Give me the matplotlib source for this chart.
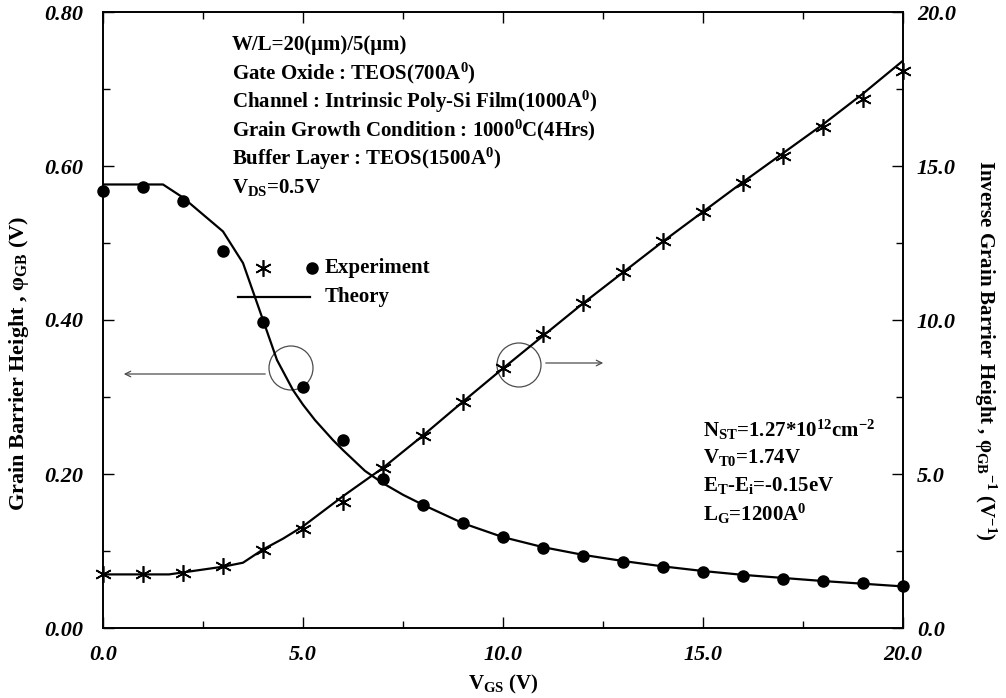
import matplotlib
matplotlib.use("Agg")
import matplotlib.pyplot as plt
from matplotlib.patches import Ellipse
from matplotlib.ticker import MultipleLocator, FormatStrFormatter

# fuentes tipo Times en negrita
plt.rcParams['font.family'] = ['Liberation Serif', 'DejaVu Serif']
plt.rcParams['font.weight'] = 'bold'
plt.rcParams['axes.labelweight'] = 'bold'
plt.rcParams['mathtext.fontset'] = 'custom'
plt.rcParams['mathtext.rm'] = 'Liberation Serif:bold'
plt.rcParams['mathtext.it'] = 'Liberation Serif:bold:italic'
plt.rcParams['mathtext.bf'] = 'Liberation Serif:bold'

# Datos experimentales (V_GS = 0..20 V)
vgs = list(range(0, 21))
phi_exp = [0.568, 0.573, 0.554, 0.489, 0.397, 0.313, 0.244, 0.194, 0.160, 0.136,
           0.118, 0.104, 0.094, 0.086, 0.079, 0.073, 0.068, 0.064, 0.061, 0.058, 0.054]
inv_exp = [1.74, 1.74, 1.78, 2.02, 2.53, 3.20, 4.10, 5.18, 6.24, 7.35,
           8.43, 9.54, 10.54, 11.57, 12.58, 13.50, 14.44, 15.33, 16.28, 17.18, 18.09]

# Curvas teóricas
v_th_phi = [0, 1.5, 2.0, 3.0, 3.5, 4.0, 4.35, 4.75, 5.0, 5.3, 5.75, 6.0, 6.55, 7.0, 7.5, 8.0,
            9.0, 10.0, 11.0, 12.0, 13.0, 14.0, 15.0, 16.0, 17.0, 18.0, 19.0, 20.0]
phi_th = [0.576, 0.576, 0.559, 0.515, 0.474, 0.400, 0.348, 0.309, 0.290, 0.270, 0.244,
          0.231, 0.204, 0.188, 0.173, 0.160, 0.136, 0.118, 0.105, 0.095, 0.087, 0.080,
          0.074, 0.069, 0.065, 0.061, 0.0575, 0.054]
v_th_inv = [0, 1.65, 3.0, 3.5, 4.0, 4.5, 5.0, 6.0, 7.0, 8.0, 9.0, 10.0, 12.0, 14.0, 16.0,
            18.0, 19.0, 20.0]
inv_th = [1.74, 1.74, 1.99, 2.12, 2.55, 2.90, 3.30, 4.28, 5.20, 6.25, 7.35, 8.43, 10.54,
          12.55, 14.48, 16.35, 17.35, 18.42]

fig = plt.figure(figsize=(10.06, 6.98), dpi=100)
ax = fig.add_axes([103 / 1006, 70 / 698, 800 / 1006, 616 / 698])
ax2 = ax.twinx()

star = (6, 2, 0)
ax.plot(v_th_phi, phi_th, color='black', lw=1.6)
ax.plot(vgs, phi_exp, 'o', color='black', ms=8, clip_on=False)
ax2.plot(v_th_inv, inv_th, color='black', lw=1.6)
ax2.plot(vgs, inv_exp, marker=star, ls='none', color='black', ms=12, mew=1.2, clip_on=False)

ax.set_xlim(0, 20)
ax.set_ylim(0, 0.8)
ax2.set_ylim(0, 20)

ax.xaxis.set_major_locator(MultipleLocator(5))
ax.xaxis.set_minor_locator(MultipleLocator(2.5))
ax.yaxis.set_major_locator(MultipleLocator(0.2))
ax.yaxis.set_minor_locator(MultipleLocator(0.1))
ax2.yaxis.set_major_locator(MultipleLocator(5))
ax2.yaxis.set_minor_locator(MultipleLocator(2.5))
ax.xaxis.set_major_formatter(FormatStrFormatter('%.1f'))
ax.yaxis.set_major_formatter(FormatStrFormatter('%.2f'))
ax2.yaxis.set_major_formatter(FormatStrFormatter('%.1f'))

ax.tick_params(which='both', direction='in', top=True, right=False, width=1)
ax.tick_params(which='major', length=8, pad=12)
ax.tick_params(which='minor', length=5)
ax.tick_params(axis='y', pad=14)
ax2.tick_params(which='both', direction='in', width=1)
ax2.tick_params(which='major', length=8, pad=10)
ax2.tick_params(which='minor', length=5)
for a in (ax, ax2):
    for lab in a.get_xticklabels() + a.get_yticklabels():
        lab.set_fontsize(16)
        lab.set_fontweight('bold')
        lab.set_fontstyle('italic')
    for s in a.spines.values():
        s.set_linewidth(1.2)

ax.set_xlabel(r'V$_{\mathrm{GS}}$ (V)', fontsize=15, fontweight='bold', labelpad=6)
ax.set_ylabel(r'Grain Barrier Height , φ$_{\mathrm{GB}}$ (V)', fontsize=16,
              fontweight='bold', va='center')
ax.yaxis.set_label_coords(-0.105, 0.43)
ax2.set_ylabel(r'Inverse Grain Barrier Height , φ$_{\mathrm{GB}}$$^{\mathrm{-1}}$ (V$^{\mathrm{-1}}$)',
               fontsize=15, fontweight='bold', rotation=270, va='center')
ax2.yaxis.set_label_coords(1.103, 0.45)

# textos de condiciones
def fx(px):
    return (px - 103) / 800

def fy(py):
    return (628 - py) / 616

cond = [r'W/L=20(μm)/5(μm)',
        r'Gate Oxide : TEOS(700A$^{\mathrm{0}}$)',
        r'Channel : Intrinsic Poly-Si Film(1000A$^{\mathrm{0}}$)',
        r'Grain Growth Condition : 1000$^{\mathrm{0}}$C(4Hrs)',
        r'Buffer Layer : TEOS(1500A$^{\mathrm{0}}$)',
        r'V$_{\mathrm{DS}}$=0.5V']
for i, t in enumerate(cond):
    ax.text(fx(232), fy(45 + 28.5 * i), t, transform=ax.transAxes, fontsize=15,
            va='center', ha='left')

params = [r'N$_{\mathrm{ST}}$=1.27*10$^{\mathrm{12}}$cm$^{\mathrm{-2}}$',
          r'V$_{\mathrm{T0}}$=1.74V',
          r'E$_{\mathrm{T}}$-E$_{\mathrm{i}}$=-0.15eV',
          r'L$_{\mathrm{G}}$=1200A$^{\mathrm{0}}$']
for i, t in enumerate(params):
    ax.text(fx(703), fy(430 + 28 * i), t, transform=ax.transAxes, fontsize=15,
            va='center', ha='left')

# leyenda dibujada a mano
ax.plot([fx(263)], [fy(268)], marker=star, color='black', ms=12, mew=1.2, transform=ax.transAxes)
ax.plot([fx(312)], [fy(268)], 'o', color='black', ms=8, transform=ax.transAxes)
ax.text(fx(325), fy(268), 'Experiment', transform=ax.transAxes, fontsize=15, va='center')
ax.plot([fx(238), fx(310)], [fy(297), fy(297)], color='black', lw=1.6, transform=ax.transAxes)
ax.text(fx(325), fy(297), 'Theory', transform=ax.transAxes, fontsize=15, va='center')

# círculos y flechas
for cx, cy in [(291, 368), (519, 365)]:
    ax.add_patch(Ellipse((fx(cx), fy(cy)), 44 / 800, 44 / 616, transform=ax.transAxes,
                         fill=False, ec='0.3', lw=0.9))
ax.annotate('', xy=(fx(121), fy(374)), xytext=(fx(268), fy(374)), xycoords='axes fraction',
            arrowprops=dict(arrowstyle='->', color='0.3', lw=0.9))
ax.annotate('', xy=(fx(606), fy(363)), xytext=(fx(543), fy(363)), xycoords='axes fraction',
            arrowprops=dict(arrowstyle='->', color='0.3', lw=0.9))

fig.savefig('out.png', dpi=100)
